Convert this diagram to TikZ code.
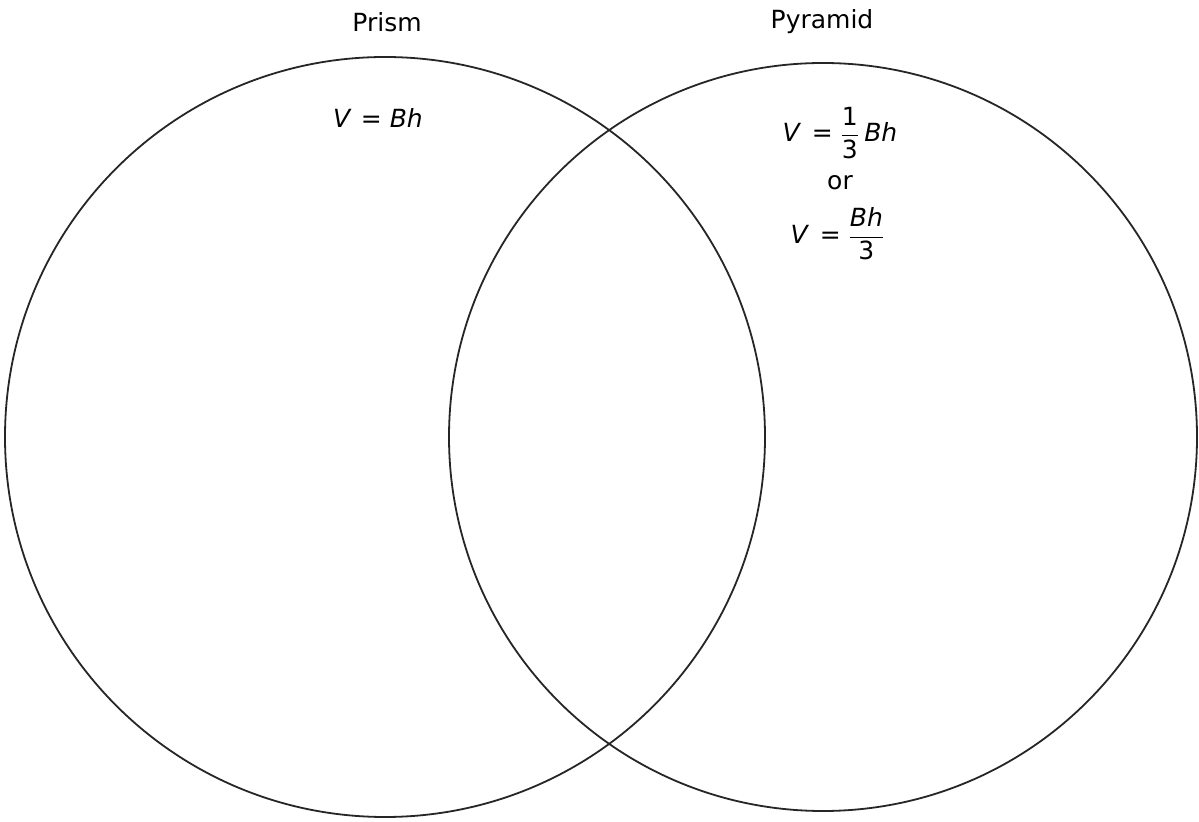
\documentclass[tikz,border=0pt]{standalone}
\usepackage{amsmath}
\usepackage{fontspec}
\setmainfont{DejaVu Sans}
\newcommand{\vi}[1]{\textit{#1}}
\tikzset{
  venn/.style={line width=0.9pt, draw=black!85},
  lbl/.style={font=\fontsize{12.5}{15}\selectfont, inner sep=0pt},
}
\begin{document}
\begin{tikzpicture}[x=0.5pt,y=-0.5pt]
\useasboundingbox[fill=white] (0,0) rectangle (1199,822);
\draw[venn] (385,437) circle[radius=190pt];
\draw[venn] (823,437) circle[radius=187pt];
\node[lbl] (prism) at (387,22) {Prism};
\node[lbl] (pyr) at (822,22) {Pyramid};
\node[lbl] (v1) at (378,118) {\vi{V}\kern0.05em{} = \vi{Bh}};
\node[lbl, anchor=center] (v2) at (840,133) {$\text{\vi{V}}\,\mathrel{\text{=}}\dfrac{\text{1}}{\text{3}}\,\text{\vi{Bh}}$};
\node[lbl] (or) at (840,183) {or};
\node[lbl, anchor=center] (v3) at (838,234) {$\text{\vi{V}}\,\mathrel{\text{=}}\dfrac{\text{\vi{Bh}}}{\text{3}}$};
\end{tikzpicture}
\end{document}
